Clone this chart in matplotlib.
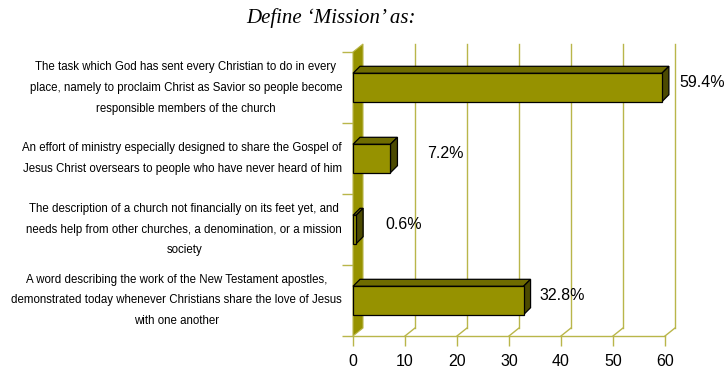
"""Horizontal 3D-style bar chart: how respondents define 'Mission'."""

import matplotlib.pyplot as plt
from matplotlib.patches import Polygon
from matplotlib.transforms import offset_copy

# Data
categories = [
    'The task which God has sent every Christian to do in every\n'
    'place, namely to proclaim Christ as Savior so people become\n'
    'responsible members of the church',
    'An effort of ministry especially designed to share the Gospel of\n'
    'Jesus Christ oversears to people who have never heard of him',
    'The description of a church not financially on its feet yet, and\n'
    'needs help from other churches, a denomination, or a mission\n'
    'society',
    'A word describing the work of the New Testament apostles,\n'
    'demonstrated today whenever Christians share the love of Jesus\n'
    'with one another',
]
percents = [59.4, 7.2, 0.6, 32.8]
xticks = [0, 10, 20, 30, 40, 50, 60]

# Style
front = '#969200'
top = '#6f6c00'
side = '#4c4a00'
grid = '#b9b64a'
label_pad = [3.3, 7.0, 5.7, 3.0]   # label gap after bar (the original places them unevenly)
wall_d = (10, 8)    # depth of back plane, pixels (x, y)
bar_d = (7, 7)      # depth of bars, pixels

fig = plt.figure(figsize=(7.26, 3.73), dpi=100)
ax = fig.add_axes([353 / 726, 37 / 373, 312 / 726, 284 / 373])
n = len(categories)
ax.set_xlim(0, 60)
ax.set_ylim(n - 0.5, -0.5)
for s in ax.spines.values():
    s.set_visible(False)

fig.canvas.draw()
to_disp = ax.transData
to_data = ax.transData.inverted()


def shift(x, y, d):
    px, py = to_disp.transform((x, y))
    return tuple(to_data.transform((px + d[0], py + d[1])))


y0, y1 = n - 0.5, -0.5  # bottom, top of front plane

# back-plane gridlines and floor diagonals
for xv in xticks[1:]:
    bx, by = shift(xv, y0, wall_d)
    tx, ty = shift(xv, y1, wall_d)
    ax.plot([bx, tx], [by, ty], color=grid, lw=1, clip_on=False, zorder=1)
    ax.plot([xv, bx], [y0, by], color=grid, lw=1, clip_on=False, zorder=1)

# floor front edge
ax.plot([0, 60], [y0, y0], color=grid, lw=1, clip_on=False, zorder=1)

# left wall
wall = [(0, y1), shift(0, y1, wall_d), shift(0, y0, wall_d), (0, y0)]
ax.add_patch(Polygon(wall, closed=True, facecolor=front, edgecolor=grid,
                     lw=0.8, clip_on=False, zorder=2))

# bars
h = 0.4
ypos = list(range(n))
ax.barh(ypos, percents, height=h, color=front, edgecolor='black', lw=0.9,
        zorder=4, clip_on=False)
for y, v, pad in zip(ypos, percents, label_pad):
    yt, yb = y - h / 2, y + h / 2
    top_face = [(0, yt), (v, yt), shift(v, yt, bar_d), shift(0, yt, bar_d)]
    side_face = [(v, yt), shift(v, yt, bar_d), shift(v, yb, bar_d), (v, yb)]
    ax.add_patch(Polygon(top_face, closed=True, facecolor=top, edgecolor='black',
                         lw=0.9, clip_on=False, zorder=3))
    ax.add_patch(Polygon(side_face, closed=True, facecolor=side, edgecolor='black',
                         lw=0.9, clip_on=False, zorder=3))
    ax.text(v + pad, y - 0.07, f'{v}%', va='center', ha='left',
            fontsize=11.5, family='Liberation Sans', zorder=5)

# axes ticks
ax.set_xticks(xticks)
ax.set_xticklabels([str(t) for t in xticks], fontsize=11.5, family='Liberation Sans')
ax.tick_params(axis='x', length=7, width=1, color=grid, pad=6)
ax.set_yticks([i - 0.5 for i in range(n + 1)])
ax.set_yticklabels([])
ax.tick_params(axis='y', length=8, width=1, color=grid)
lab_tr = offset_copy(ax.transData, fig=fig, x=-11, y=0, units='dots')
for y, lab in zip(ypos, categories):
    ax.text(0, y, lab, ha='right', va='center', multialignment='center',
            fontsize=8.3, family='Liberation Sans', linespacing=2.0,
            transform=lab_tr, clip_on=False)

fig.text(331 / 726, 1 - 18 / 373, 'Define \u2018Mission\u2019 as:', ha='center',
         va='center', fontsize=15, style='italic', family='Liberation Serif')

fig.savefig('out.png', dpi=100)
